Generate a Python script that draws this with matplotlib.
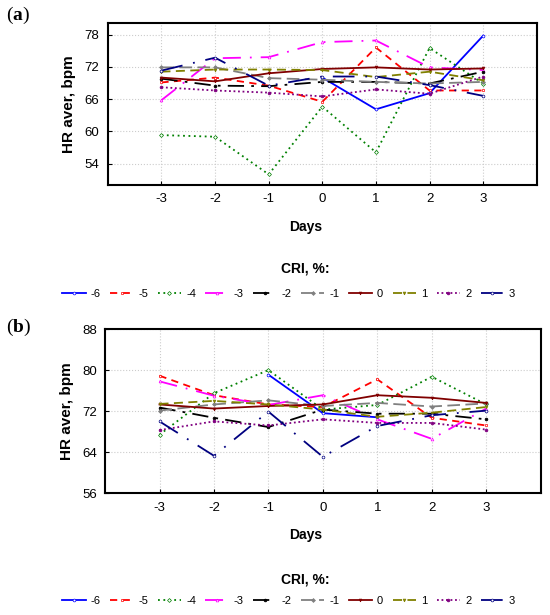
import numpy as np
import matplotlib
matplotlib.use('Agg')
import matplotlib.pyplot as plt
from matplotlib.lines import Line2D

plt.rcParams['font.family'] = ['Liberation Sans', 'DejaVu Sans']
plt.rcParams['axes.unicode_minus'] = False
plt.rcParams['mathtext.fontset'] = 'custom'
plt.rcParams['mathtext.bf'] = 'Liberation Serif:bold'
plt.rcParams['mathtext.rm'] = 'Liberation Serif'

nan = np.nan
days = [-3, -2, -1, 0, 1, 2, 3]
criLabels = ['-6', '-5', '-4', '-3', '-2', '-1', '0', '1', '2', '3']

# panel (a)
a_m6 = [nan, nan, nan, 70.0, 64.1, 67.1, 77.8]
a_m5 = [69.1, 70.0, 68.5, 65.5, 75.6, 67.6, 67.6]
a_m4 = [59.3, 59.0, 52.0, 64.6, 56.1, 75.5, 68.9]
a_m3 = [65.8, 73.6, 73.8, 76.6, 76.9, 71.9, 71.4]
a_m2 = [69.8, 68.5, 68.4, 69.2, 69.2, 68.9, 71.1]
a_m1 = [71.9, 71.9, 69.9, 69.6, 69.2, 68.9, 69.2]
a_0 = [70.0, 69.3, 70.8, 71.6, 71.9, 71.5, 71.7]
a_1 = [71.1, 71.5, 71.5, 71.4, 70.1, 71.1, 69.5]
a_2 = [68.2, 67.6, 67.2, 66.5, 67.8, 67.0, 70.2]
a_3 = [71.3, 73.7, 68.5, 70.2, 70.2, 68.6, 66.6]

# panel (b)
b_m6 = [nan, nan, 79.1, 71.6, 70.8, nan, nan]
b_m5 = [78.9, 75.1, 73.3, 72.8, 78.2, 70.7, 69.2]
b_m4 = [67.4, 75.5, 80.0, 72.3, 73.2, 78.7, 73.3]
b_m3 = [77.8, 75.0, 73.2, 75.1, 70.4, 66.6, 72.5]
b_m2 = [72.7, 70.7, 68.9, 72.3, 71.5, 71.5, 70.4]
b_m1 = [72.1, 73.3, 74.1, 73.0, 73.6, 72.9, 73.5]
b_0 = [73.3, 72.5, 73.0, 73.3, 75.1, 74.6, 73.6]
b_1 = [73.4, 74.0, 73.3, 72.3, 70.9, 71.7, 72.8]
b_2 = [68.3, 70.0, 69.2, 70.4, 69.7, 69.7, 68.4]
b_3 = [70.0, 63.3, 71.9, 63.1, 69.1, 71.2, 72.1]

panelA = [a_m6, a_m5, a_m4, a_m3, a_m2, a_m1, a_0, a_1, a_2, a_3]
panelB = [b_m6, b_m5, b_m4, b_m3, b_m2, b_m1, b_0, b_1, b_2, b_3]

# color, dashes, marker, filled
styles = [
    ('#0000ff', None, 'o', False),
    ('#ff0000', (4, 3), 's', False),
    ('#008000', (1, 2), 'D', False),
    ('#ff00ff', (10, 5, 1, 5), '^', False),
    ('#000000', (9, 4, 1.5, 4), 'o', True),
    ('#808080', (7, 3), 'D', True),
    ('#800000', None, 'v', True),
    ('#808000', (5, 3), 'v', True),
    ('#800080', (1, 1.5), 'o', True),
    ('#000080', (12, 6, 1, 6), 'o', False),
]


def styleKw(i):
    col, dash, mk, filled = styles[i]
    kw = dict(color=col, lw=1.3, marker=mk, markersize=2, markeredgewidth=0.5,
              markeredgecolor=col, markerfacecolor=col if filled else 'white')
    if dash is None:
        kw['linestyle'] = '-'
    else:
        kw['dashes'] = dash
    return kw


def drawPanel(ax, series, yticks):
    for i, vals in enumerate(series):
        ax.plot(days, vals, **styleKw(i))
    ax.set_xlim(-4, 4)
    ax.set_xticks(days)
    ax.set_yticks(yticks)
    ax.grid(True, linestyle=':', color='#cccccc', lw=0.8)
    for sp in ax.spines.values():
        sp.set_linewidth(1.5)
    ax.tick_params(direction='in', length=3, labelsize=9.5, pad=6)
    ax.set_ylabel('HR aver, bpm', fontsize=11, fontweight='bold', labelpad=6)


fig = plt.figure(figsize=(5.5, 6.15), dpi=100)

axA = fig.add_axes([0.196, 0.699, 0.780, 0.264])
drawPanel(axA, panelA, [54, 60, 66, 72, 78])
axA.set_ylim(50, 80.2)

axB = fig.add_axes([0.191, 0.198, 0.792, 0.267])
drawPanel(axB, panelB, [56, 64, 72, 80, 88])
axB.set_ylim(56, 88)

handles = [Line2D([0], [0], label=criLabels[i], **styleKw(i)) for i in range(10)]

for yDays, yCri, yLeg in [(0.631, 0.564, 0.522), (0.130, 0.0585, 0.0228)]:
    fig.text(0.555, yDays, 'Days', ha='center', va='center', fontsize=10, fontweight='bold')
    fig.text(0.555, yCri, 'CRI, %:', ha='center', va='center', fontsize=10, fontweight='bold')
    fig.legend(handles=handles, loc='center', bbox_to_anchor=(0.525, yLeg), ncol=10,
               frameon=False, fontsize=8, handlelength=2.1, handletextpad=0.45,
               columnspacing=0.85, borderpad=0)

fig.text(0.01, 0.975, r'($\mathbf{a}$)', fontsize=14, family='Liberation Serif', va='center')
fig.text(0.01, 0.468, r'($\mathbf{b}$)', fontsize=14, family='Liberation Serif', va='center')

fig.savefig('out.png', dpi=100)
